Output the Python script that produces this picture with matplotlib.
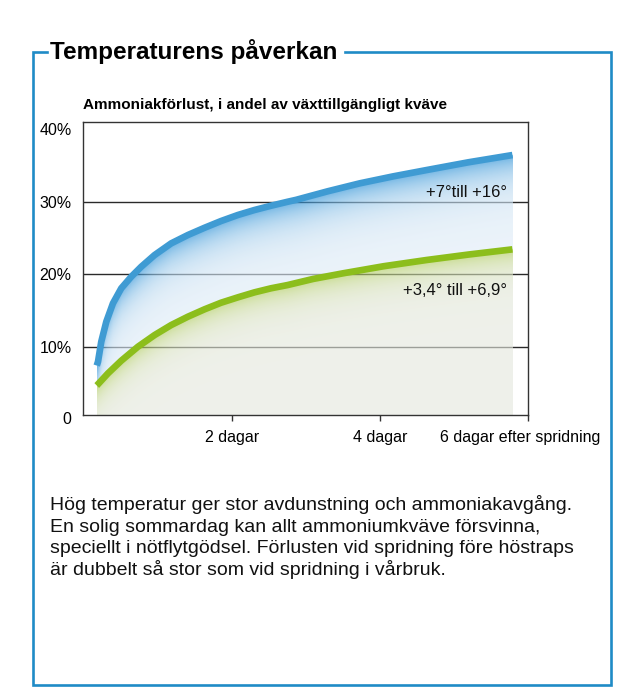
import numpy as np
import matplotlib
matplotlib.use('Agg')
import matplotlib.pyplot as plt
from matplotlib.lines import Line2D
from matplotlib.transforms import ScaledTranslation

plt.rcParams['font.family'] = ['Liberation Sans', 'DejaVu Sans']

# --- values (days after spreading, % loss) ---
warm_days = [0.18, 0.197, 0.241, 0.309, 0.399, 0.511, 0.646, 0.780, 0.961, 1.185, 1.410,
             1.635, 1.858, 2.084, 2.309, 2.532, 2.757, 2.87, 3.30, 3.73, 4.18, 4.63, 5.20, 5.79]
warm_loss = [7.4, 7.93, 10.69, 13.45, 15.99, 18.06, 19.66, 21.03, 22.65, 24.26, 25.41,
             26.41, 27.34, 28.17, 28.86, 29.45, 30.0, 30.26, 31.45, 32.54, 33.5, 34.37, 35.45, 36.44]
cool_days = [0.18, 0.187, 0.332, 0.511, 0.736, 0.961, 1.185, 1.410, 1.635, 1.858, 2.084,
             2.309, 2.532, 2.757, 3.10, 3.50, 4.05, 4.63, 5.20, 5.79]
cool_loss = [4.65, 4.72, 6.33, 8.07, 10.0, 11.61, 12.99, 14.14, 15.16, 16.07, 16.81,
             17.50, 18.06, 18.51, 19.35, 20.12, 21.1, 21.96, 22.72, 23.43]

warm_label = '+7°till +16°'
cool_label = '+3,4° till +6,9°'

y_ticks = [10, 20, 30, 40]
y_ticklabels = ['10%', '20%', '30%', '40%']
zero_label = '0'
x_ticks = [2, 4, 6]
x_ticklabels = ['2 dagar', '4 dagar', '6 dagar efter spridning']

title = 'Temperaturens påverkan'
subtitle = 'Ammoniakförlust, i andel av växttillgängligt kväve'
body_lines = [
    'Hög temperatur ger stor avdunstning och ammoniakavgång.',
    'En solig sommardag kan allt ammoniumkväve försvinna,',
    'speciellt i nötflytgödsel. Förlusten vid spridning före höstraps',
    'är dubbelt så stor som vid spridning i vårbruk.',
]

W, H = 619, 687
BLUE = '#3f9bd3'
GREEN = '#8cbe1c'
FRAME = '#1f8bc6'
YMIN, YMAX = 0.58, 41.0


def fx(px):
    return px / W


def fy(py):
    return 1 - py / H


fig = plt.figure(figsize=(W / 100, H / 100), dpi=100)
ax = fig.add_axes([fx(83.4), fy(415), fx(528) - fx(83.4), fy(122) - fy(415)])
ax.set_xlim(0, 6)
ax.set_ylim(YMIN, YMAX)

# --- gradient fill under the curves ---
xs = np.linspace(warm_days[0], warm_days[-1], 500)
ys = np.linspace(YMIN, YMAX, 700)
Y = ys[:, None]
top_w = np.interp(xs, warm_days, warm_loss)[None, :]
top_c = np.interp(xs, cool_days, cool_loss)[None, :]

pale_blue = np.array([0.930, 0.957, 0.982])
strong_blue = np.array([0.42, 0.70, 0.89])
pale_grey = np.array([0.937, 0.945, 0.922])
strong_green = np.array([0.78, 0.86, 0.55])

t_b = np.exp(-(top_w - Y) / 2.7)[..., None]
t_g = np.exp(-(top_c - Y) / 2.0)[..., None]
col_b = pale_blue + (strong_blue - pale_blue) * t_b
col_g = pale_grey + (strong_green - pale_grey) * t_g
d = np.where((Y <= top_c)[..., None], col_g, col_b)
a = np.maximum(0.62, 1 - d.min(axis=2))
c = np.clip((d - (1 - a)[..., None]) / a[..., None], 0, 1)
a = np.where(Y <= top_w, a, 0.0)
rgba = np.dstack([c, a])
ax.imshow(rgba, extent=(xs[0], xs[-1], YMIN, YMAX), origin='lower', aspect='auto',
          interpolation='bilinear', zorder=1.5)

ax.plot(warm_days, warm_loss, color=BLUE, lw=4.8, solid_capstyle='butt', zorder=3)
ax.plot(cool_days, cool_loss, color=GREEN, lw=4.8, solid_capstyle='butt', zorder=3)

ax.text(5.72, 30.69, warm_label, ha='right', va='baseline', fontsize=12, color='#111111')
ax.text(5.72, 17.13, cool_label, ha='right', va='baseline', fontsize=12, color='#111111')

# --- axes styling ---
for s in ax.spines.values():
    s.set_color('#333333')
    s.set_linewidth(1)
ax.set_yticks(y_ticks)
ax.set_yticklabels(y_ticklabels, fontsize=11.5)
ax.set_xticks(x_ticks)
ax.set_xticklabels(x_ticklabels, fontsize=11.5)
ax.tick_params(axis='y', length=0, pad=8.5)
ax.tick_params(axis='x', direction='out', length=4.5, width=1, color='#333333', pad=6)
ax.yaxis.grid(True, color='#2a2a2a', lw=1)
ax.set_axisbelow(True)
ax.get_ygridlines()[-1].set_visible(False)
lbl = ax.get_xticklabels()[-1]
lbl.set_transform(lbl.get_transform() + ScaledTranslation(-8 / 100, 0, fig.dpi_scale_trans))
# the "0" label sits just under the bottom spine
ax.text(0, 0, zero_label, transform=ax.get_yaxis_transform() + ScaledTranslation(-8.5 / 72, 0, fig.dpi_scale_trans),
        ha='right', va='center', fontsize=11.5, clip_on=False)

# --- frame around the panel ---
frame_x = [46.7, 33, 33, 611, 611, 345]
frame_y = [51.7, 51.7, 685, 685, 51.7, 51.7]
fig.add_artist(Line2D([fx(v) for v in frame_x], [fy(v) for v in frame_y],
                      color=FRAME, lw=1.9, solid_joinstyle='miter'))

fig.text(fx(50.5), fy(58.5), title, fontsize=17.5, fontweight='bold', ha='left', va='baseline')
fig.text(fx(83), fy(108.5), subtitle, fontsize=11, fontweight='bold', ha='left', va='baseline')

for i, line in enumerate(body_lines):
    fig.text(fx(50), fy(510 + i * 21.7), line, fontsize=14, ha='left', va='baseline', color='#111111')

fig.savefig('out.png', dpi=100)
